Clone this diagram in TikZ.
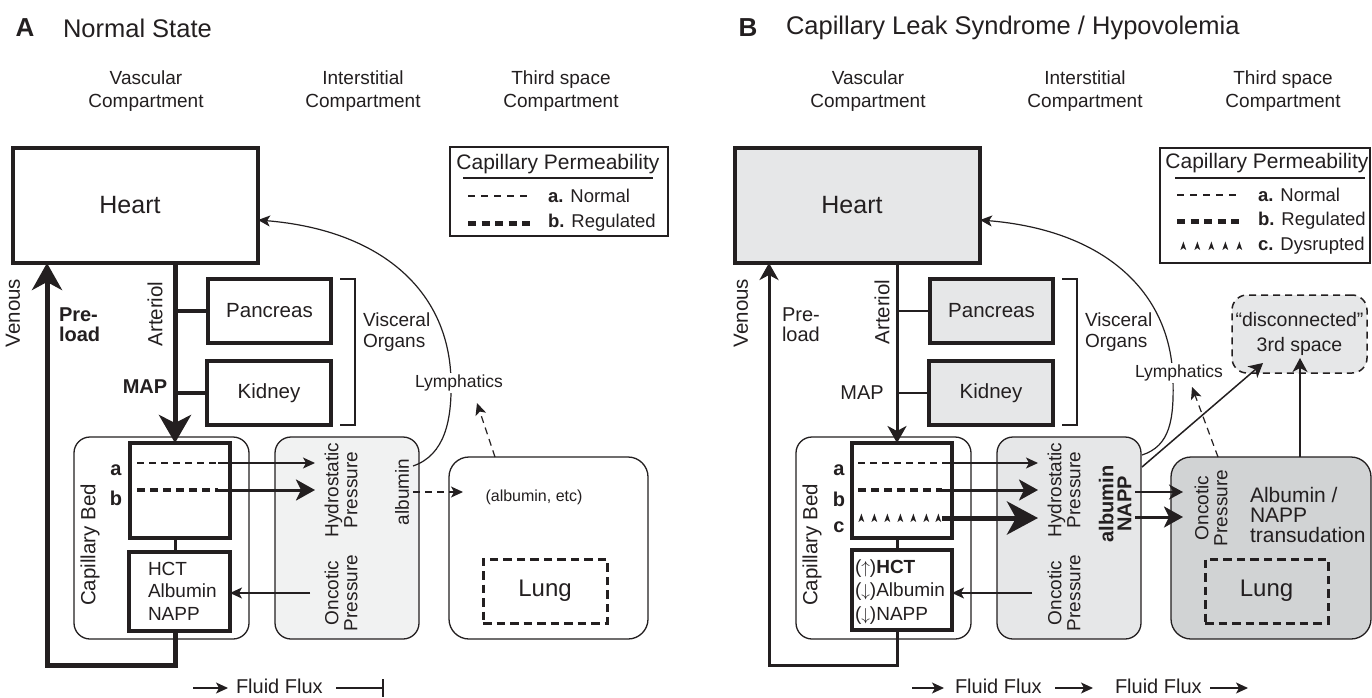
\documentclass[tikz,border=0pt]{standalone}
\usepackage{fontspec}
\setmainfont{Liberation Sans}
\usetikzlibrary{arrows.meta}
\definecolor{ink}{HTML}{231F20}
\definecolor{ltA}{HTML}{F1F2F2}
\definecolor{ltB}{HTML}{E6E7E8}
\definecolor{dkB}{HTML}{D1D3D4}
\newcommand{\fsz}[2]{\fontsize{#1pt}{#2pt}\selectfont}
\newcommand{\dmk}[2]{\fill[ink] (#1-2.6,#2+4) -- (#1+0.4,#2-4.5) -- (#1+3.2,#2+4) -- (#1+0.3,#2+2) -- cycle;}
\tikzset{
 thinln/.style={draw=ink, line width=1.2pt},
 arS/.style={-{Stealth[length=12pt,width=11pt,inset=3pt]}},
 arSM/.style={-{Stealth[length=14pt,width=15pt,inset=4pt]}},
 arM/.style={-{Stealth[length=19pt,width=21pt,inset=5pt]}},
 arL/.style={-{Stealth[length=28pt,width=32pt,inset=8pt]}},
 arV/.style={-{Stealth[length=27pt,width=30pt,inset=8pt]}},
 arBV/.style={-{Stealth[length=17pt,width=19pt,inset=5pt]}},
 hbox/.style={draw=ink, line width=3.3pt, inner sep=0pt},
 rbox/.style={draw=ink, line width=1.3pt, rounded corners=16pt, inner sep=0pt},
 dashA/.style={draw=ink, line width=1.2pt, dash pattern=on 7pt off 5pt},
 dashB/.style={draw=ink, line width=4.5pt, dash pattern=on 8pt off 5pt},
 lungbox/.style={draw=ink, line width=3pt, dash pattern=on 8.5pt off 5pt, inner sep=0pt, font=\fsz{24}{28}},
 rot/.style={rotate=90, align=center},
 hdr/.style={align=center, font=\fsz{19}{23}},
 legbox/.style={draw=ink, line width=1.2pt, inner sep=0pt},
}
\begin{document}
\begin{tikzpicture}[x=1pt,y=-1pt, line join=miter,
  every node/.style={text=ink, inner sep=0pt, outer sep=0pt, font=\fsz{20}{24}}]
\useasboundingbox (0,0) rectangle (1372,698);
\fill[white] (0,0) rectangle (1372,698);

%================ PANEL A =================
\node[font=\bfseries\fsz{26}{30}] (tA) at (25,28) {A};
\node[font=\fsz{25.5}{30}, anchor=west] (tA2) at (63,28) {Normal State};
\node[hdr] (hA1) at (146,91.5) {Vascular\\Compartment};
\node[hdr] (hA2) at (363,91.5) {Interstitial\\Compartment};
\node[hdr] (hA3) at (561,91.5) {Third space\\Compartment};

\node[hbox, line width=3.6pt, minimum width=245pt, minimum height=115pt, font=\fsz{25}{30}] (heartA) at (135.5,205.5) {Heart\hspace*{11pt}};
\node[hbox, minimum width=123pt, minimum height=64pt, font=\fsz{20.5}{24}] (pancA) at (269.5,311) {Pancreas};
\node[hbox, minimum width=124pt, minimum height=64pt, font=\fsz{20.5}{24}] (kidA) at (269,393) {Kidney};

\node[rbox, minimum width=175pt, minimum height=202pt] (bedA) at (161.5,538) {};
\node[hbox, minimum width=100pt, minimum height=95pt] (capA) at (180,490.5) {};
\node[hbox, minimum width=101pt, minimum height=79pt] (hctA) at (179.5,591.5) {};
\node[anchor=west, align=left, font=\fsz{19}{22.5}] (hctAt) at (148,591) {HCT\\Albumin\\NAPP};

\node[rbox, fill=ltA, minimum width=144pt, minimum height=202pt] (intA) at (347,538) {};
\node[rot, font=\fsz{19}{19}] (hydA) at (341,490) {Hydrostatic\\Pressure};
\node[rot, font=\fsz{19}{19}] (oncA) at (341,593) {Oncotic\\Pressure};
\node[rot, font=\fsz{19}{19}] (albA) at (402,492) {albumin};

\node[rbox, rounded corners=20pt, minimum width=199pt, minimum height=182pt] (thirdA) at (548.5,548) {};
\node[lungbox, minimum width=124pt, minimum height=64pt] (lungA) at (545,591) {Lung};
\node[font=\fsz{16}{19}] (aetcA) at (534,497) {(albumin, etc)};

\coordinate (aX) at (175,0);
\coordinate (vX) at (47,0);
\coordinate (vY) at (0,665);
\draw[draw=ink, line width=5pt, arL] (heartA.south -| aX) -- (capA.north -| aX);
\draw[draw=ink, line width=4pt] (aX |- pancA.west) -- (pancA.west);
\draw[draw=ink, line width=4pt] (aX |- kidA.west) -- (kidA.west);
\draw[draw=ink, line width=3pt] (capA.south -| aX) -- (hctA.north -| aX);
\draw[draw=ink, line width=5pt, arV] (hctA.south -| aX) -- (aX |- vY) -- (vX |- vY) -- (heartA.south -| vX);

\node[rot, font=\fsz{20.5}{24}] (venA) at (13,313) {Venous};
\node[anchor=west, align=left, font=\bfseries\fsz{20}{20}] (preA) at (59,325) {Pre-\\load};
\node[rot, font=\fsz{20.5}{24}] (artA) at (155,314) {Arteriol};
\node[font=\bfseries\fsz{20}{24}] (mapA) at (145,387) {MAP};
\node[rot, font=\fsz{20.5}{24}] (cbA) at (90,545) {Capillary Bed};
\node[font=\bfseries\fsz{20}{24}] (laA) at (116,470) {a};
\node[font=\bfseries\fsz{20}{24}] (lbA) at (116,498) {b};

\node[anchor=west, align=left, font=\fsz{19}{21}] (visA) at (363,332) {Visceral\\Organs};
\draw[thinln] (340,279) -- (355,279) -- (355,425) -- (340,425);

% capillary flux lines
\coordinate (aLA) at (137,463); \coordinate (aMA) at (218,463); \coordinate (aRA) at (315,463);
\coordinate (bLA) at (137,490); \coordinate (bMA) at (218,490); \coordinate (bRA) at (315,490);
\draw[dashA] (aLA) -- (aMA);
\draw[thinln, arS] (aMA) -- (aRA);
\draw[dashB] (bLA) -- (bMA);
\draw[draw=ink, line width=3pt, arM] (bMA) -- (bRA);

\coordinate (oncTA) at (310,593);
\draw[thinln, arS] (oncTA) -- (oncTA -| hctA.east);

% lymphatics
\coordinate (lsA) at (413,466);
\coordinate (lyA) at (0,220);
\draw[thinln, arS] (lsA) .. controls (445,455) and (452,420) .. (451,380) .. controls (449,290) and (380,230) .. (heartA.east |- lyA);
\node[fill=white, inner sep=1.5pt, font=\fsz{17.5}{20}] (lymA) at (459,383) {Lymphatics};
\coordinate (ldA) at (495,457); \coordinate (ltA) at (477,403);
\draw[dashA, arS] (thirdA.north -| ldA) -- (ltA);
\coordinate (alA) at (413,492); \coordinate (alA2) at (463,492);
\draw[dashA, arS] (alA) -- (alA2);

% legend A
\node[legbox, minimum width=218pt, minimum height=89pt] (legA) at (559,191.5) {};
\node[font=\fsz{21}{24}] (legAt) at (558,164) {Capillary Permeability};
\draw[thinln] (463,178) -- (653,178);
\draw[draw=ink, line width=1.2pt, dash pattern=on 7pt off 6pt] (468,196) -- (530,196);
\draw[draw=ink, line width=5pt, dash pattern=on 8pt off 5.5pt] (468,223) -- (530,223);
\node[anchor=west, font=\fsz{18.5}{22}] (legAa) at (548,196) {\textbf{a.}\hspace{7pt}Normal};
\node[anchor=west, font=\fsz{18.5}{22}] (legAb) at (548,223) {\textbf{b.}\hspace{7pt}Regulated};

% fluid flux A
\coordinate (ff1) at (193,688); \coordinate (ff2) at (228,688);
\draw[thinln, arS] (ff1) -- (ff2);
\node[anchor=west, font=\fsz{20}{24}] (ffA) at (236,686) {Fluid Flux};
\coordinate (ff3) at (336,688); \coordinate (ff4) at (383,688);
\draw[thinln] (ff3) -- (ff4);
\draw[thinln] (383,679) -- (383,697);

%================ PANEL B =================
\begin{scope}[xshift=722pt]
\node[font=\bfseries\fsz{26}{30}] (tB) at (26,28) {B};
\node[font=\fsz{25.5}{30}, anchor=west] (tB2) at (64,28) {Capillary Leak Syndrome / Hypovolemia};
\node[hdr] (hB1) at (146,91.5) {Vascular\\Compartment};
\node[hdr] (hB2) at (363,91.5) {Interstitial\\Compartment};
\node[hdr] (hB3) at (561,91.5) {Third space\\Compartment};

\node[hbox, fill=ltB, line width=3.6pt, minimum width=245pt, minimum height=115pt, font=\fsz{25}{30}] (heartB) at (135.5,205.5) {Heart\hspace*{11pt}};
\node[hbox, fill=ltB, minimum width=123pt, minimum height=64pt, font=\fsz{20.5}{24}] (pancB) at (269.5,311) {Pancreas};
\node[hbox, fill=ltB, minimum width=124pt, minimum height=64pt, font=\fsz{20.5}{24}] (kidB) at (269,393) {Kidney};

\node[rbox, minimum width=175pt, minimum height=202pt] (bedB) at (161.5,538) {};
\node[hbox, minimum width=100pt, minimum height=95pt] (capB) at (180,490.5) {};
\node[hbox, minimum width=100pt, minimum height=80pt] (hctB) at (180,590) {};
\node[anchor=west, align=left, font=\fsz{19}{23.5}] (hctBt) at (133,592) {($\uparrow$)\textbf{HCT}\\($\downarrow$)Albumin\\($\downarrow$)NAPP};

\node[rbox, fill=ltB, minimum width=144pt, minimum height=202pt] (intB) at (347,538) {};
\node[rot, font=\fsz{19}{19}] (hydB) at (342,490) {Hydrostatic\\Pressure};
\node[rot, font=\fsz{19}{19}] (oncB) at (342,593) {Oncotic\\Pressure};
\node[rot, font=\bfseries\fsz{20}{18}] (albB) at (393,504) {albumin\\NAPP};

\node[rbox, fill=dkB, rounded corners=20pt, minimum width=200pt, minimum height=182pt] (thirdB) at (549,548) {};
\node[rot, font=\fsz{19}{19}] (onc3B) at (489,508) {Oncotic\\Pressure};
\node[anchor=west, align=left, font=\fsz{21}{20}] (transB) at (528,515) {Albumin /\\NAPP\\transudation};
\node[lungbox, minimum width=123pt, minimum height=64pt] (lungB) at (544.5,591) {Lung};

\node[draw=ink, line width=1.5pt, dash pattern=on 7pt off 5pt, rounded corners=15pt, fill=ltB, minimum width=135pt, minimum height=78pt, align=center, font=\fsz{19.5}{25}] (discB) at (577.5,334) {“disconnected”\\3rd space};

\coordinate (bX) at (175,0);
\coordinate (wX) at (47,0);
\coordinate (wY) at (0,665);
\draw[draw=ink, line width=3pt, arBV] (heartB.south -| bX) -- (capB.north -| bX);
\draw[thinln] (bX |- pancB.west) -- (pancB.west);
\draw[thinln] (bX |- kidB.west) -- (kidB.west);
\draw[draw=ink, line width=3pt] (capB.south -| bX) -- (hctB.north -| bX);
\draw[draw=ink, line width=3pt, arBV] (hctB.south -| bX) -- (bX |- wY) -- (wX |- wY) -- (heartB.south -| wX);

\node[rot, font=\fsz{20.5}{24}] (venB) at (19,313) {Venous};
\node[anchor=west, align=left, font=\fsz{20}{20}] (preB) at (60,325) {Pre-\\load};
\node[rot, font=\fsz{20.5}{24}] (artB) at (160,312) {Arteriol};
\node[font=\fsz{20}{24}] (mapB) at (140,393) {MAP};
\node[rot, font=\fsz{20.5}{24}] (cbB) at (90,545) {Capillary Bed};
\node[font=\bfseries\fsz{20}{24}] (laB) at (117,470) {a};
\node[font=\bfseries\fsz{20}{24}] (lbB) at (117,499) {b};
\node[font=\bfseries\fsz{20}{24}] (lcB) at (117,527) {c};

\node[anchor=west, align=left, font=\fsz{19}{21}] (visB) at (363,332) {Visceral\\Organs};
\draw[thinln] (340,279) -- (355,279) -- (355,425) -- (340,425);

% capillary flux lines
\coordinate (aLB) at (136,463); \coordinate (aMB) at (220,463); \coordinate (aRB) at (316,463);
\coordinate (bLB) at (136,490); \coordinate (bMB) at (220,490); \coordinate (bRB) at (316,490);
\coordinate (cMB) at (220,518); \coordinate (cRB) at (316,518);
\draw[dashA] (aLB) -- (aMB);
\draw[thinln, arS] (aMB) -- (aRB);
\draw[dashB] (bLB) -- (bMB);
\draw[draw=ink, line width=3pt, arM] (bMB) -- (bRB);
\foreach \x in {139,152,165,178,191,204,216} {\dmk{\x}{518}}
\draw[draw=ink, line width=5pt, -{Stealth[length=31pt,width=33pt,inset=9pt]}] (cMB) -- (cRB);

\coordinate (oncTB) at (310,593);
\draw[thinln, arS] (oncTB) -- (oncTB -| hctB.east);

% interstitial -> third
\coordinate (i1) at (413,492); \coordinate (i1e) at (461,492);
\coordinate (i2) at (413,517); \coordinate (i2e) at (461,517);
\draw[draw=ink, line width=1.8pt, arSM] (i1) -- (i1e);
\draw[draw=ink, line width=3pt, arM] (i2) -- (i2e);

% lymphatics
\coordinate (lsB) at (420,455);
\coordinate (lyB) at (0,220);
\draw[thinln, arS] (lsB) .. controls (448,446) and (452,420) .. (451,380) .. controls (449,290) and (380,230) .. (heartB.east |- lyB);
\node[fill=white, inner sep=1.5pt, font=\fsz{17.5}{20}] (lymB) at (457,373) {Lymphatics};
\coordinate (ldB) at (496,457); \coordinate (ltB) at (470,387);
\draw[dashA, arS] (thirdB.north -| ldB) -- (ltB);
\coordinate (dgS) at (420,467); \coordinate (dgE) at (541,363);
\draw[draw=ink, line width=1.5pt, arSM] (dgS) -- (dgE);
\coordinate (vtX) at (578,0); \coordinate (vtE) at (578,358);
\draw[draw=ink, line width=1.5pt, arSM] (thirdB.north -| vtX) -- (vtE);

% legend B
\node[legbox, fill=white, minimum width=210pt, minimum height=115pt] (legB) at (543,205.5) {};
\node[font=\fsz{21}{24}] (legBt) at (545,163) {Capillary Permeability};
\draw[thinln] (453,178) -- (643,178);
\draw[draw=ink, line width=1.2pt, dash pattern=on 7pt off 6pt] (455,195) -- (517,195);
\draw[draw=ink, line width=5pt, dash pattern=on 8pt off 5.5pt] (455,221) -- (517,221);
\foreach \x in {461,475,489,503,517} {\dmk{\x}{246}}
\node[anchor=west, font=\fsz{18.5}{22}] (legBa) at (536,195) {\textbf{a.}\hspace{7pt}Normal};
\node[anchor=west, font=\fsz{18.5}{22}] (legBb) at (536,221) {\textbf{b.}\hspace{7pt}Regulated};
\node[anchor=west, font=\fsz{18.5}{22}] (legBc) at (536,246) {\textbf{c.}\hspace{7pt}Dysrupted};

% fluid flux B
\coordinate (gf1) at (190,688); \coordinate (gf2) at (222,688);
\draw[thinln, arS] (gf1) -- (gf2);
\node[anchor=west, font=\fsz{20}{24}] (ffB1) at (233,686) {Fluid Flux};
\coordinate (gf3) at (333,688); \coordinate (gf4) at (371,688);
\draw[thinln, arS] (gf3) -- (gf4);
\node[anchor=west, font=\fsz{20}{24}] (ffB2) at (393,686) {Fluid Flux};
\coordinate (gf5) at (488,688); \coordinate (gf6) at (526,688);
\draw[thinln, arS] (gf5) -- (gf6);
\end{scope}
\end{tikzpicture}
\end{document}
